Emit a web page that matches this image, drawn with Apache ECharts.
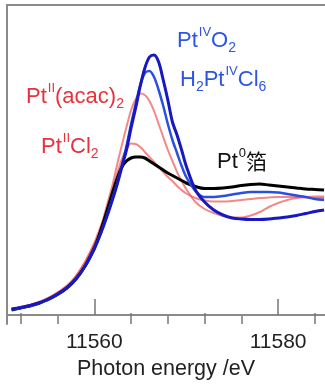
<!DOCTYPE html>
<html><head><meta charset="utf-8">
<script src="https://cdn.jsdelivr.net/npm/echarts@6/dist/echarts.min.js"></script>
<style>html,body{margin:0;padding:0;background:#fff}#c{width:325px;height:389px}</style>
</head><body><div id="c"></div>
<script>
const energy = [11551,11552,11553,11554,11555,11556,11557,11558,11559,11560,11560.5,11561,11561.5,11562,11562.5,11563,11563.5,11564,11564.5,11565,11565.5,11566,11566.5,11567,11567.5,11568,11568.5,11569,11569.5,11570,11571,11572,11573,11574,11575,11576,11577,11578,11579,11580,11581,11582,11583,11584,11585];
const ptIVO2 = [0.048,0.06,0.076,0.096,0.128,0.168,0.216,0.288,0.392,0.528,0.616,0.712,0.816,0.928,1.048,1.184,1.32,1.496,1.656,1.832,1.976,2.064,2.08,2.024,1.88,1.72,1.544,1.44,1.32,1.192,1.0,0.904,0.84,0.8,0.776,0.768,0.764,0.764,0.768,0.776,0.784,0.796,0.812,0.828,0.84];
const h2PtCl6 = [0.044,0.056,0.072,0.092,0.124,0.164,0.212,0.284,0.392,0.536,0.616,0.712,0.824,0.936,1.056,1.2,1.352,1.528,1.688,1.84,1.936,1.952,1.904,1.8,1.672,1.528,1.4,1.296,1.192,1.104,0.992,0.944,0.944,0.952,0.964,0.976,0.984,0.984,0.984,0.98,0.968,0.956,0.944,0.928,0.92];
const ptAcac2 = [0.048,0.064,0.08,0.104,0.136,0.18,0.232,0.312,0.424,0.576,0.672,0.776,0.912,1.048,1.208,1.36,1.504,1.64,1.728,1.772,1.76,1.712,1.632,1.528,1.424,1.32,1.232,1.144,1.072,1.008,0.904,0.848,0.816,0.792,0.78,0.78,0.796,0.824,0.864,0.896,0.92,0.936,0.944,0.948,0.948];
const ptCl2 = [0.048,0.064,0.08,0.104,0.136,0.18,0.232,0.312,0.424,0.568,0.656,0.76,0.88,1.008,1.136,1.248,1.328,1.372,1.368,1.344,1.304,1.264,1.224,1.184,1.144,1.104,1.072,1.032,1.0,0.972,0.936,0.916,0.908,0.908,0.912,0.92,0.928,0.936,0.94,0.944,0.944,0.944,0.94,0.936,0.936];
const ptFoil = [0.04,0.056,0.072,0.096,0.124,0.164,0.216,0.288,0.392,0.536,0.632,0.744,0.864,0.984,1.096,1.184,1.232,1.256,1.264,1.264,1.256,1.232,1.208,1.184,1.16,1.136,1.116,1.096,1.076,1.056,1.028,1.012,1.012,1.016,1.024,1.036,1.044,1.048,1.04,1.032,1.024,1.016,1.008,1.004,1.0];
const labelTicks = [11560, 11580];
const midTicks = [11552, 11564, 11572, 11584];
const shortTicks = [11556, 11568, 11576];

const X_MIN = 11550.5, X_MAX = 11585.1, Y_MIN = -0.072, Y_MAX = 2.48;
const pair = a => energy.map((e, i) => [e, a[i]]);
const FONT = 'Liberation Sans, Arial, sans-serif';
const RED = '#e8313c', BLUE = '#2f55df', BLK = '#111';

function lbl(x, y, text, color) {
  return {
    type: 'text', left: x, top: y,
    style: {
      text: text, fill: color, font: '22px ' + FONT,
      rich: {
        n: {fontSize: 22, fontFamily: FONT, color: color},
        sup: {fontSize: 13, fontFamily: FONT, color: color, padding: [0, 0, 16, 1]},
        sub: {fontSize: 14, fontFamily: FONT, color: color, padding: [16, 0, 0, 0]},
        cjk: {fontSize: 21, fontFamily: 'Noto Sans CJK SC', color: color}
      }
    }
  };
}

const chart = echarts.init(document.getElementById('c'), null, {renderer: 'canvas'});
const baseX = {type: 'value', min: X_MIN, max: X_MAX, position: 'bottom', splitLine: {show: false}};
chart.setOption({
  animation: false,
  grid: {left: 7, right: 0, top: 5, bottom: 65, outerBoundsMode: 'none', containLabel: false},
  xAxis: [
    Object.assign({}, baseX, {
      axisLine: {show: true, lineStyle: {color: '#8a8a8a', width: 2}},
      axisTick: {show: true, inside: true, length: 16, customValues: labelTicks, lineStyle: {color: '#777', width: 1.5}},
      axisLabel: {show: true, customValues: labelTicks, margin: 8, fontSize: 21, fontFamily: FONT, color: '#222',
                  formatter: v => String(v)},
      name: 'Photon energy /eV', nameLocation: 'middle', nameGap: 33,
      nameTextStyle: {fontSize: 21.5, fontFamily: FONT, color: '#222'}
    }),
    Object.assign({}, baseX, {
      axisLine: {show: false},
      axisTick: {show: true, inside: true, length: 11, customValues: midTicks, lineStyle: {color: '#777', width: 1.5}},
      axisLabel: {show: false}
    }),
    Object.assign({}, baseX, {
      axisLine: {show: false},
      axisTick: {show: true, inside: true, length: 8, customValues: shortTicks, lineStyle: {color: '#777', width: 1.5}},
      axisLabel: {show: false}
    }),
    Object.assign({}, baseX, {
      position: 'top',
      axisLine: {show: true, lineStyle: {color: '#8a8a8a', width: 2}},
      axisTick: {show: false}, axisLabel: {show: false}
    })
  ],
  yAxis: {
    type: 'value', min: Y_MIN, max: Y_MAX,
    axisLine: {show: true, lineStyle: {color: '#8a8a8a', width: 2}},
    axisTick: {show: false}, axisLabel: {show: false}, splitLine: {show: false}
  },
  series: [
    {name: 'PtCl2', type: 'line', data: pair(ptCl2), showSymbol: false, smooth: 0.3,
     lineStyle: {color: '#ec4848', width: 2, opacity: 0.65}, z: 2},
    {name: 'Pt(acac)2', type: 'line', data: pair(ptAcac2), showSymbol: false, smooth: 0.3,
     lineStyle: {color: '#ec4848', width: 2, opacity: 0.65}, z: 2},
    {name: 'Pt foil', type: 'line', data: pair(ptFoil), showSymbol: false, smooth: 0.3,
     lineStyle: {color: '#000', width: 3}, z: 3},
    {name: 'H2PtCl6', type: 'line', data: pair(h2PtCl6), showSymbol: false, smooth: 0.3,
     lineStyle: {color: '#2a50e0', width: 2.5}, z: 4},
    {name: 'PtO2', type: 'line', data: pair(ptIVO2), showSymbol: false, smooth: 0.3,
     lineStyle: {color: '#1818c0', width: 3}, z: 5}
  ],
  graphic: [
    lbl(177, 26, '{n|Pt}{sup|IV}{n|O}{sub|2}', BLUE),
    lbl(180, 65, '{n|H}{sub|2}{n|Pt}{sup|IV}{n|Cl}{sub|6}', BLUE),
    lbl(26, 82, '{n|Pt}{sup|II}{n|(acac)}{sub|2}', RED),
    lbl(41, 132, '{n|Pt}{sup|II}{n|Cl}{sub|2}', RED),
    lbl(217, 147, '{n|Pt}{sup|0}{cjk|箔}', BLK)
  ]
});
</script></body></html>
